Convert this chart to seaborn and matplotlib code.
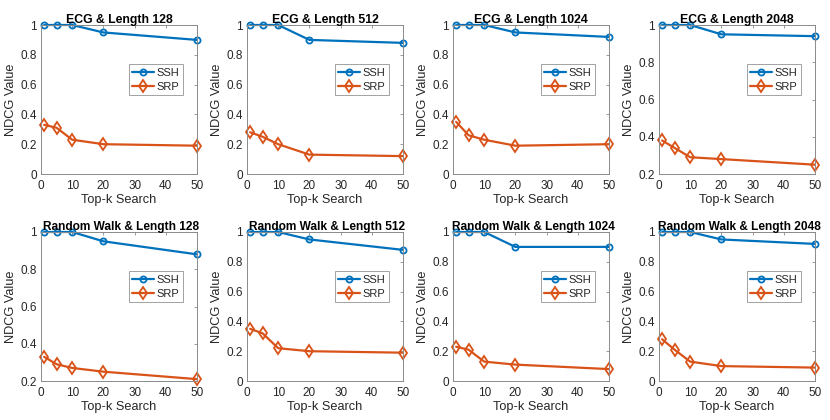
import matplotlib
matplotlib.use("Agg")
import matplotlib.pyplot as plt
import seaborn as sns
import numpy as np
import pandas as pd

sns.set_theme(style="white")
plt.rcParams['font.family'] = ['Liberation Sans', 'DejaVu Sans']

topk = [1, 5, 10, 20, 50]

titles = ["ECG & Length 128", "ECG & Length 512", "ECG & Length 1024", "ECG & Length 2048",
          "Random Walk & Length 128", "Random Walk & Length 512",
          "Random Walk & Length 1024", "Random Walk & Length 2048"]

ssh_ecg128 = [1.0, 1.0, 1.0, 0.95, 0.90]
srp_ecg128 = [0.33, 0.31, 0.23, 0.20, 0.19]
ssh_ecg512 = [1.0, 1.0, 1.0, 0.90, 0.88]
srp_ecg512 = [0.28, 0.25, 0.20, 0.13, 0.12]
ssh_ecg1024 = [1.0, 1.0, 1.0, 0.95, 0.92]
srp_ecg1024 = [0.35, 0.26, 0.23, 0.19, 0.20]
ssh_ecg2048 = [1.0, 1.0, 1.0, 0.95, 0.94]
srp_ecg2048 = [0.38, 0.34, 0.29, 0.28, 0.25]
ssh_rw128 = [1.0, 1.0, 1.0, 0.95, 0.88]
srp_rw128 = [0.33, 0.29, 0.27, 0.25, 0.21]
ssh_rw512 = [1.0, 1.0, 1.0, 0.95, 0.88]
srp_rw512 = [0.35, 0.32, 0.22, 0.20, 0.19]
ssh_rw1024 = [1.0, 1.0, 1.0, 0.90, 0.90]
srp_rw1024 = [0.23, 0.21, 0.13, 0.11, 0.08]
ssh_rw2048 = [1.0, 1.0, 1.0, 0.95, 0.92]
srp_rw2048 = [0.28, 0.21, 0.13, 0.10, 0.09]

ssh_all = [ssh_ecg128, ssh_ecg512, ssh_ecg1024, ssh_ecg2048,
           ssh_rw128, ssh_rw512, ssh_rw1024, ssh_rw2048]
srp_all = [srp_ecg128, srp_ecg512, srp_ecg1024, srp_ecg2048,
           srp_rw128, srp_rw512, srp_rw1024, srp_rw2048]
ymins = [0, 0, 0, 0.2, 0.2, 0, 0, 0]

W, H = 830, 420
fig = plt.figure(figsize=(W / 100, H / 100), dpi=100)

lefts = [41, 247, 453, 659]
tops = [25, 232]
aw, ah = 156, 149

blue = "#0072BD"
orange = "#D95319"
txtcol = "#262626"
spcol = "#8a8a8a"

def fmt(v):
    s = f"{v:.1f}"
    if s.endswith(".0"):
        s = s[:-2]
    return s

for i in range(8):
    r, c = divmod(i, 4)
    l = lefts[c]
    t = tops[r]
    ax = fig.add_axes([l / W, 1 - (t + ah) / H, aw / W, ah / H])
    df = pd.DataFrame({"k": topk, "SSH": ssh_all[i], "SRP": srp_all[i]})
    sns.lineplot(data=df, x="k", y="SSH", ax=ax, color=blue, marker="o",
                 markersize=4.4, markerfacecolor="none", markeredgecolor=blue,
                 markeredgewidth=1.3, linewidth=1.6, label="SSH", clip_on=False)
    sns.lineplot(data=df, x="k", y="SRP", ax=ax, color=orange, marker="d",
                 markersize=6.5, markerfacecolor="none", markeredgecolor=orange,
                 markeredgewidth=1.3, linewidth=1.6, label="SRP", clip_on=False)
    ax.set_xlim(0, 50)
    ax.set_ylim(ymins[i], 1)
    ax.set_xticks([0, 10, 20, 30, 40, 50])
    yt = np.round(np.arange(ymins[i], 1.0001, 0.2), 1)
    ax.set_yticks(yt)
    ax.set_yticklabels([fmt(v) for v in yt])
    ax.tick_params(direction="in", length=2.5, width=0.6, color=spcol,
                   labelcolor=txtcol, labelsize=8.5, top=True, right=True)
    ax.tick_params(axis="x", pad=4.5)
    ax.tick_params(axis="y", pad=3)
    for sp in ax.spines.values():
        sp.set_visible(True)
        sp.set_color(spcol)
        sp.set_linewidth(0.7)
    ax.set_xlabel("Top-k Search", fontsize=9.2, color=txtcol, labelpad=1.5)
    ax.set_ylabel("NDCG Value", fontsize=9.2, color=txtcol, labelpad=2.5)
    if r == 0:
        ax.set_title(titles[i], fontsize=8.8, fontweight="bold", color="black", pad=1.5)
    else:
        ax.set_title(titles[i], fontsize=8.6, fontweight="bold", color="black",
                     pad=1.5, x=0.515)
    leg = ax.legend(loc="upper right", bbox_to_anchor=(0.91, 0.738), fontsize=8,
                    frameon=True, fancybox=False, edgecolor=spcol,
                    handlelength=1.9, borderpad=0.33, labelspacing=0.35,
                    handletextpad=0.27, borderaxespad=0)
    leg.get_frame().set_linewidth(0.7)
    for txt in leg.get_texts():
        txt.set_color(txtcol)

fig.savefig("out.png", dpi=100)
